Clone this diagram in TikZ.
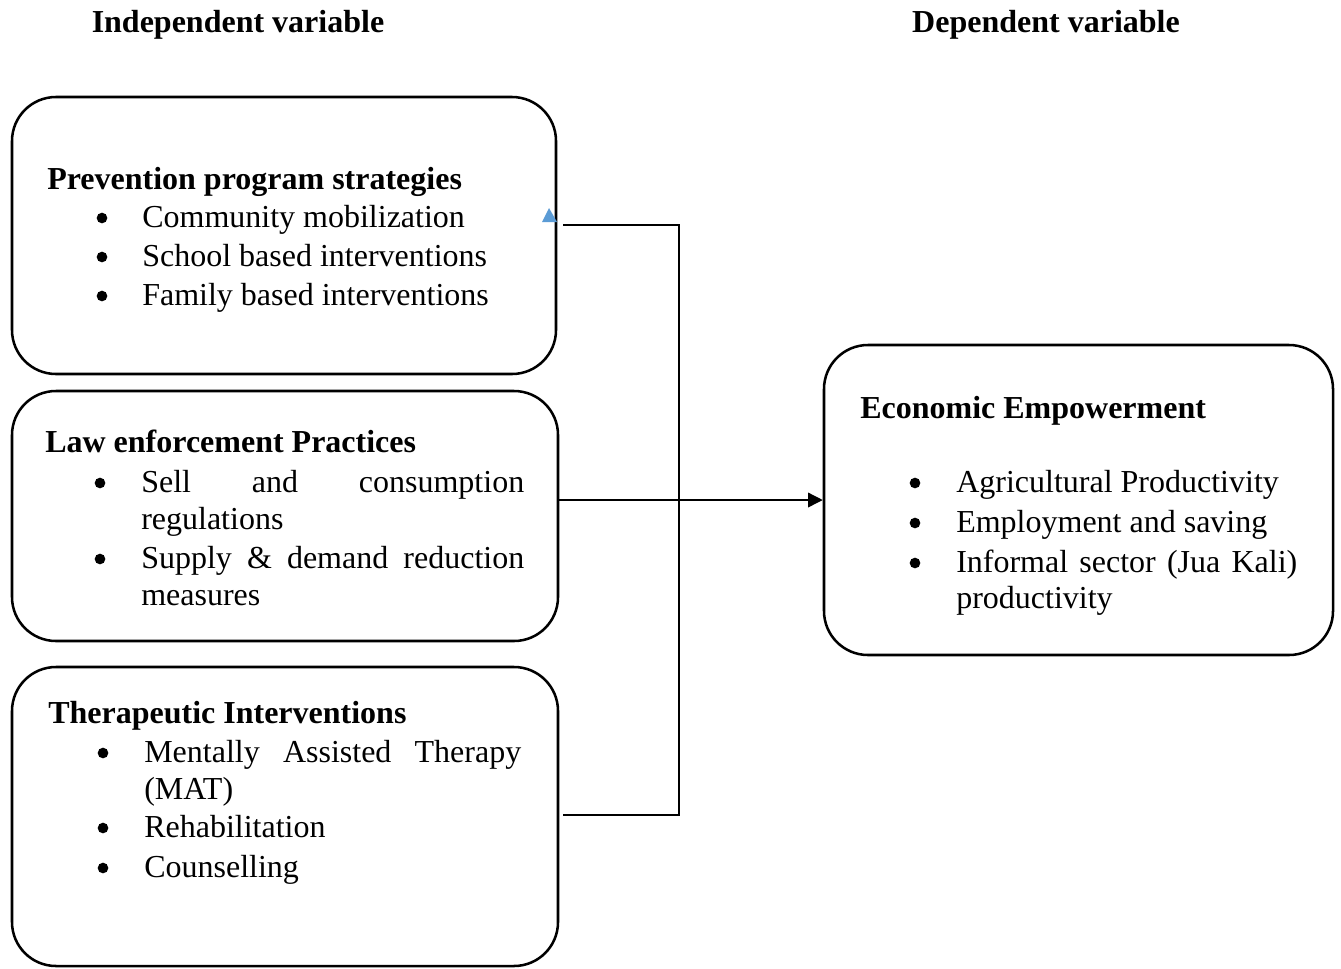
\documentclass[tikz,border=0pt]{standalone}
\usepackage{fontspec}
\setmainfont{Liberation Serif}
\usetikzlibrary{arrows.meta}
\definecolor{tipblue}{HTML}{5B9BD5}
\begin{document}
\begin{tikzpicture}[x=0.75pt,y=-0.75pt,
  box/.style={draw,line width=1.9pt,rounded corners=33pt,inner sep=0pt},
  txt/.style={anchor=base west,inner sep=0pt,font=\fontsize{24}{29}\selectfont},
  hd/.style={txt,font=\fontsize{24}{29}\selectfont\bfseries},
  bul/.style={circle,fill=black,inner sep=0pt,minimum size=8pt},
  conn/.style={line width=1pt}]
\useasboundingbox (0,0) rectangle (1341,968);
% titles
\node[hd,anchor=base] (t1) at (238,32) {Independent variable};
\node[hd,anchor=base] (t2) at (1046,32) {Dependent variable};
% boxes
\node[box,minimum width=408pt,minimum height=207.75pt] (b1) at (284,235.5) {};
\node[box,minimum width=409.5pt,minimum height=187.5pt] (b2) at (285,516) {};
\node[box,minimum width=409.5pt,minimum height=224.25pt] (b3) at (285,816.5) {};
\node[box,minimum width=381.75pt,minimum height=232.5pt] (b4) at (1078.5,500) {};
% box 1 text
\node[hd] (h1) at (47,189) {Prevention program strategies};
\node[bul] (d11) at (102,218) {};
\node[txt] (l11) at (142,227) {Community mobilization};
\node[bul] (d12) at (102,257) {};
\node[txt] (l12) at (142,266) {School based interventions};
\node[bul] (d13) at (102,296) {};
\node[txt] (l13) at (142,305) {Family based interventions};
% box 2 text
\node[hd] (h2) at (45,452) {Law enforcement Practices};
\node[bul] (d21) at (100,483) {};
\node[txt] (l21) at (141,492) {\hbox to 287.25pt{Sell\hfill and\hfill consumption}};
\node[txt] (l22) at (141,529) {regulations};
\node[bul] (d22) at (100,559) {};
\node[txt] (l23) at (141,568) {\hbox to 287.25pt{Supply\hfill \&\hfill demand\hfill reduction}};
\node[txt] (l24) at (141,605) {measures};
% box 3 text
\node[hd] (h3) at (48,723) {Therapeutic Interventions};
\node[bul] (d31) at (103,753) {};
\node[txt] (l31) at (144,762) {\hbox to 282.75pt{Mentally\hfill Assisted\hfill Therapy}};
\node[txt] (l32) at (144,799) {(MAT)};
\node[bul] (d32) at (103,828) {};
\node[txt] (l33) at (144,837) {Rehabilitation};
\node[bul] (d33) at (103,868) {};
\node[txt] (l34) at (144,877) {Counselling};
% box 4 text
\node[hd] (h4) at (860,418) {Economic Empowerment};
\node[bul] (d41) at (915,483) {};
\node[txt] (l41) at (956,492) {Agricultural Productivity};
\node[bul] (d42) at (915,523) {};
\node[txt] (l42) at (956,532) {Employment and saving};
\node[bul] (d43) at (915,563) {};
\node[txt] (l43) at (956,572) {\hbox to 255.75pt{Informal\hfill sector\hfill (Jua\hfill Kali)}};
\node[txt] (l44) at (956,608) {productivity};
% connectors
\coordinate (s1) at (563,225);
\coordinate (s3) at (563,815);
\coordinate (j) at (679,500);
\coordinate (jt) at (679,225);
\coordinate (jb) at (679,815);
\draw[conn] (s1) -- (jt) -- (jb) -- (s3);
\draw[conn] (b2.east |- j) -- ([xshift=-1]j);
\draw[conn,-{Triangle[length=11pt,width=11pt]}] ([xshift=1]j) -- (b4.west);
% stray blue tip
\fill[tipblue] (549,208) -- (557,222) -- (542,222) -- cycle;
\end{tikzpicture}
\end{document}
